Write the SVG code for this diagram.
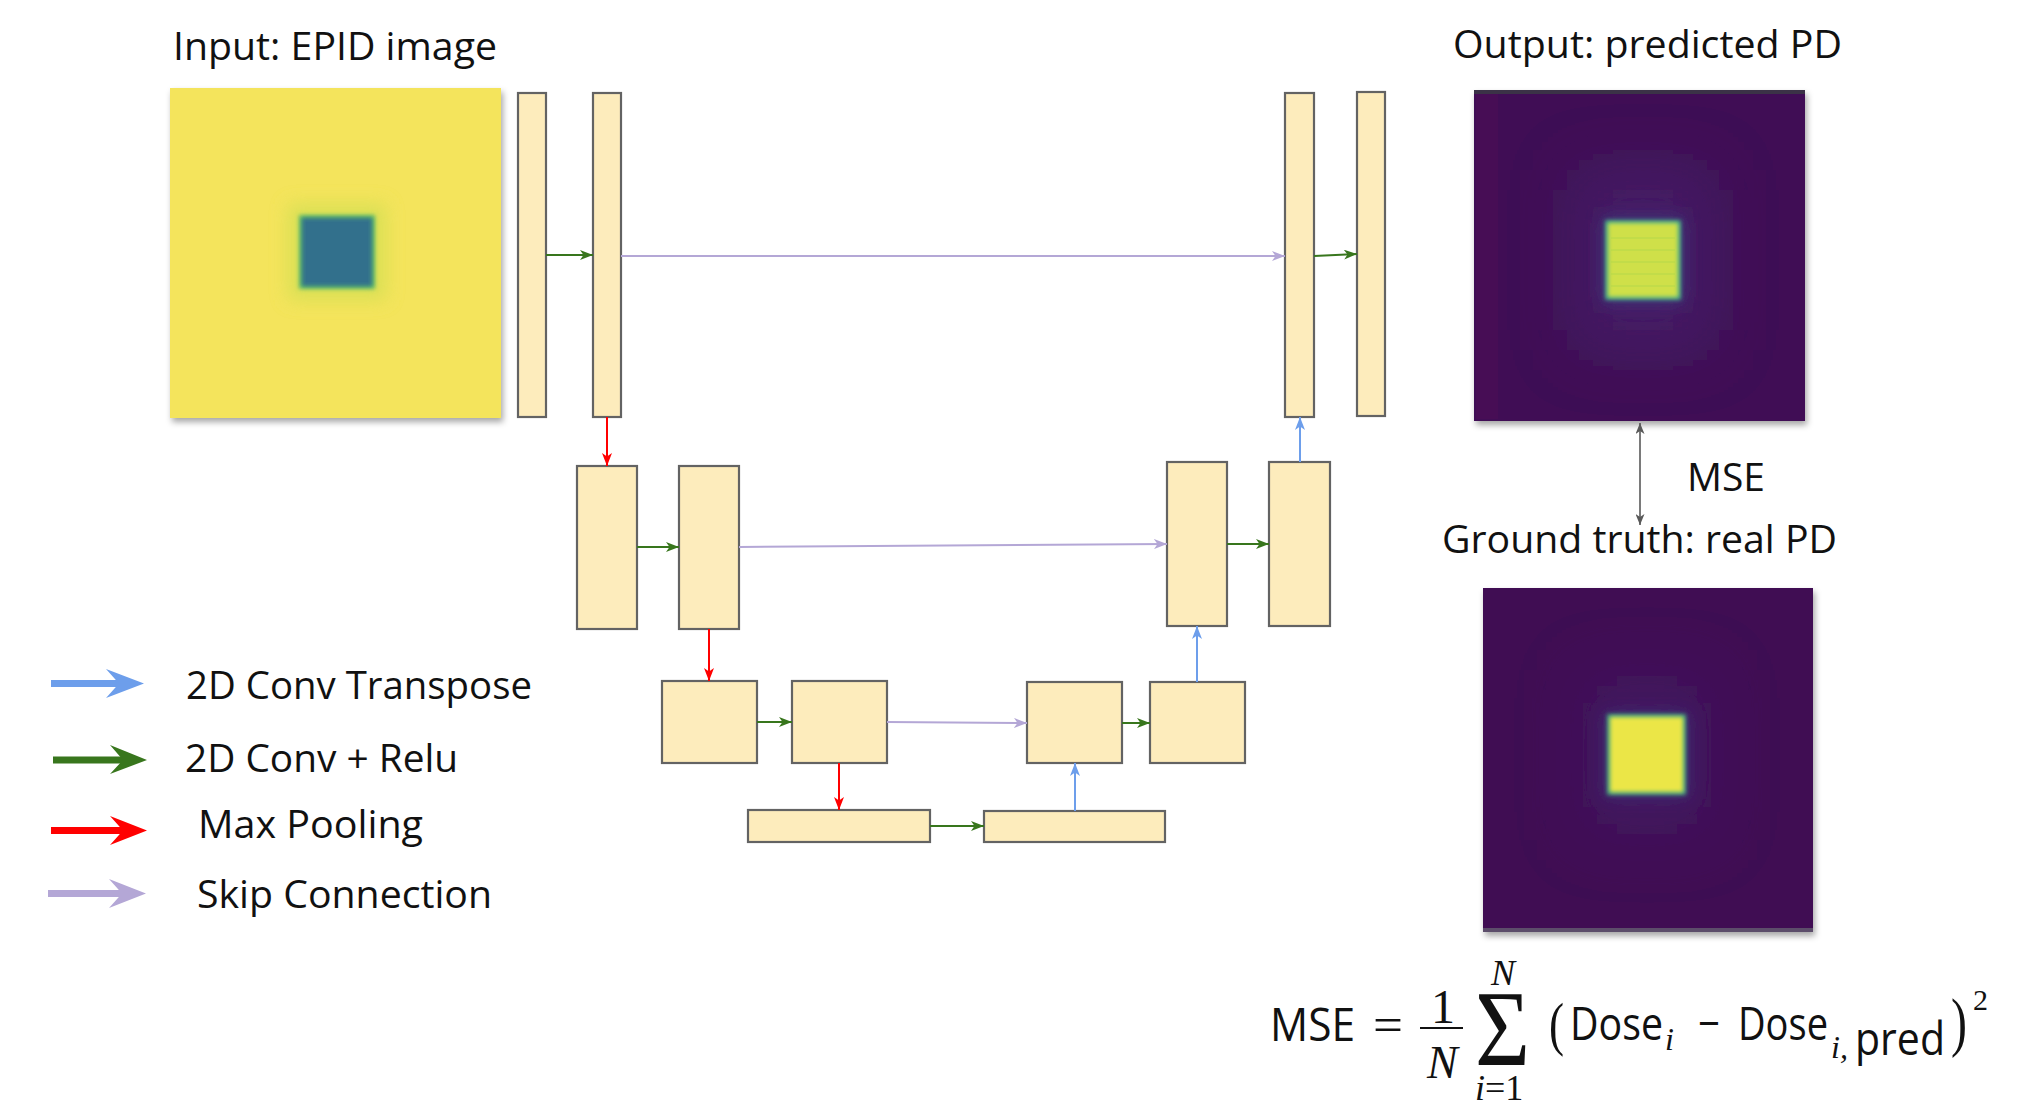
<svg xmlns="http://www.w3.org/2000/svg" width="2030" height="1105" viewBox="0 0 2030 1105">
  <style>
    .lbl { font-family: "Open Sans", "Noto Sans", "DejaVu Sans", sans-serif; font-size: 39px; fill: #111; }
    .sans { font-family: "Open Sans", "Noto Sans", "DejaVu Sans", sans-serif; font-size: 46px; font-style: normal; }
    .ser { font-family: "Liberation Serif", "DejaVu Serif", serif; font-style: normal; }
    .it { font-family: "Liberation Serif", "DejaVu Serif", serif; font-style: italic; }
    .formula { fill: #111; }
    .layer { fill: #fdecbc; stroke: #636363; stroke-width: 2.2; }
    .conv { stroke: #38761d; stroke-width: 2; fill: none; marker-end: url(#head-green); }
    .pool { stroke: #ff0000; stroke-width: 2; fill: none; marker-end: url(#head-red); }
    .up { stroke: #6d9eeb; stroke-width: 2; fill: none; marker-end: url(#head-blue); }
    .skip { stroke: #b4a7d6; stroke-width: 2; fill: none; marker-end: url(#head-purple); }
    .mse { stroke: #595959; stroke-width: 1.6; fill: none; marker-start: url(#head-gray-start); marker-end: url(#head-gray); }
  </style>
  <defs>
    <marker id="head-green" markerUnits="userSpaceOnUse" markerWidth="14" markerHeight="10" refX="13" refY="5" orient="auto">
      <path d="M0,0 L13,5 L0,10 L3.5,5 Z" fill="#38761d"/>
    </marker>
    <marker id="head-red" markerUnits="userSpaceOnUse" markerWidth="14" markerHeight="10" refX="13" refY="5" orient="auto">
      <path d="M0,0 L13,5 L0,10 L3.5,5 Z" fill="#ff0000"/>
    </marker>
    <marker id="head-blue" markerUnits="userSpaceOnUse" markerWidth="14" markerHeight="10" refX="13" refY="5" orient="auto">
      <path d="M0,0 L13,5 L0,10 L3.5,5 Z" fill="#6d9eeb"/>
    </marker>
    <marker id="head-purple" markerUnits="userSpaceOnUse" markerWidth="14" markerHeight="10" refX="13" refY="5" orient="auto">
      <path d="M0,0 L13,5 L0,10 L3.5,5 Z" fill="#b4a7d6"/>
    </marker>
    <marker id="head-gray" markerUnits="userSpaceOnUse" markerWidth="12" markerHeight="9" refX="11" refY="4.5" orient="auto">
      <path d="M0,0 L11,4.5 L0,9 L3,4.5 Z" fill="#595959"/>
    </marker>
    <marker id="head-gray-start" markerUnits="userSpaceOnUse" markerWidth="12" markerHeight="9" refX="11" refY="4.5" orient="auto-start-reverse">
      <path d="M0,0 L11,4.5 L0,9 L3,4.5 Z" fill="#595959"/>
    </marker>
    <filter id="shadow" x="-5%" y="-5%" width="115%" height="115%">
      <feDropShadow dx="2" dy="4" stdDeviation="3" flood-color="#000" flood-opacity="0.35"/>
    </filter>
    <filter id="soft" x="-30%" y="-30%" width="160%" height="160%">
      <feGaussianBlur stdDeviation="2"/>
    </filter>
    <filter id="halo" x="-60%" y="-60%" width="220%" height="220%">
      <feGaussianBlur stdDeviation="9"/>
    </filter>
    <filter id="wide" x="-80%" y="-80%" width="260%" height="260%">
      <feGaussianBlur stdDeviation="30"/>
    </filter>
    <clipPath id="clip-out"><rect x="1474" y="90" width="331" height="331"/></clipPath>
    <clipPath id="clip-gt"><rect x="1483" y="588" width="330" height="344"/></clipPath>
  </defs>

  <!-- Titles and labels -->
  <text class="lbl" x="173" y="60" textLength="324" lengthAdjust="spacingAndGlyphs">Input: EPID image</text>
  <text class="lbl" x="1453" y="58" textLength="389" lengthAdjust="spacingAndGlyphs">Output: predicted PD</text>
  <text class="lbl" x="1687" y="491" textLength="78" lengthAdjust="spacingAndGlyphs">MSE</text>
  <text class="lbl" x="1442" y="553" textLength="395" lengthAdjust="spacingAndGlyphs">Ground truth: real PD</text>

  <!-- Input EPID image -->
  <g id="input-image" filter="url(#shadow)">
    <rect x="170" y="88" width="331" height="330" fill="#f4e45b"/>
    <rect x="288" y="204" width="98" height="96" fill="#c8de52" opacity="0.6" filter="url(#halo)"/>
    <rect x="299" y="215" width="76" height="74" fill="#5bbb68" filter="url(#soft)"/>
    <rect x="302" y="218" width="70" height="68" fill="#33708c" filter="url(#soft)"/>
  </g>

  <!-- Predicted PD image -->
  <g id="output-image" filter="url(#shadow)">
    <rect x="1474" y="90" width="331" height="331" fill="#3f0e55"/>
    <g clip-path="url(#clip-out)">
      <rect x="1476" y="92" width="22" height="327" fill="#4d0c55" opacity="0.5"/>
      <rect x="1573" y="170" width="140" height="180" fill="#4c2a74" opacity="0.55" filter="url(#wide)"/>
    </g>
    <rect x="1474" y="90" width="331" height="4" fill="#3a3046"/>
    <rect x="1602" y="217" width="82" height="86" fill="#3b4f8a" opacity="0.45" filter="url(#halo)"/>
    <rect x="1605" y="220" width="76" height="80" fill="#3fa889" filter="url(#soft)"/>
    <rect x="1608" y="223" width="70" height="74" fill="#cfe04a" filter="url(#soft)"/>
    <g stroke="#b6d94a" stroke-width="1.5" opacity="0.7">
      <line x1="1611" y1="238" x2="1675" y2="238"/>
      <line x1="1611" y1="250" x2="1675" y2="250"/>
      <line x1="1611" y1="262" x2="1675" y2="262"/>
      <line x1="1611" y1="274" x2="1675" y2="274"/>
      <line x1="1611" y1="286" x2="1675" y2="286"/>
    </g>
  </g>

  <!-- Ground truth PD image -->
  <g id="truth-image" filter="url(#shadow)">
    <rect x="1483" y="588" width="330" height="344" fill="#3f0c53"/>
    <g clip-path="url(#clip-gt)">
      <rect x="1577" y="670" width="140" height="170" fill="#4c2a74" opacity="0.35" filter="url(#wide)"/>
    </g>
    <rect x="1483" y="928" width="330" height="4" fill="#5b4e6a"/>
    <rect x="1603" y="711" width="87" height="88" fill="#3b4f8a" opacity="0.4" filter="url(#halo)"/>
    <rect x="1607" y="714" width="79" height="81" fill="#3fa37f" filter="url(#soft)"/>
    <rect x="1610" y="717" width="73" height="75" fill="#ebe646" filter="url(#soft)"/>
  </g>

  <!-- Encoder layers -->
  <g id="enc1a"><rect class="layer" x="518" y="93" width="28" height="324"/></g>
  <g id="enc1b"><rect class="layer" x="593" y="93" width="28" height="324"/></g>
  <g id="enc2a"><rect class="layer" x="577" y="466" width="60" height="163"/></g>
  <g id="enc2b"><rect class="layer" x="679" y="466" width="60" height="163"/></g>
  <g id="enc3a"><rect class="layer" x="662" y="681" width="95" height="82"/></g>
  <g id="enc3b"><rect class="layer" x="792" y="681" width="95" height="82"/></g>

  <!-- Bottleneck -->
  <g id="bottom-a"><rect class="layer" x="748" y="810" width="182" height="32"/></g>
  <g id="bottom-b"><rect class="layer" x="984" y="811" width="181" height="31"/></g>

  <!-- Decoder layers -->
  <g id="dec3a"><rect class="layer" x="1027" y="682" width="95" height="81"/></g>
  <g id="dec3b"><rect class="layer" x="1150" y="682" width="95" height="81"/></g>
  <g id="dec2a"><rect class="layer" x="1167" y="462" width="60" height="164"/></g>
  <g id="dec2b"><rect class="layer" x="1269" y="462" width="61" height="164"/></g>
  <g id="dec1a"><rect class="layer" x="1285" y="93" width="29" height="324"/></g>
  <g id="dec1b"><rect class="layer" x="1357" y="92" width="28" height="324"/></g>

  <!-- Connectors -->
  <g id="connectors">
    <line class="conv" x1="546" y1="255" x2="593" y2="255"/>
    <line class="conv" x1="637" y1="547" x2="679" y2="547"/>
    <line class="conv" x1="757" y1="722" x2="792" y2="722"/>
    <line class="conv" x1="930" y1="826" x2="984" y2="826"/>
    <line class="conv" x1="1122" y1="723" x2="1150" y2="723"/>
    <line class="conv" x1="1227" y1="544" x2="1269" y2="544"/>
    <line class="conv" x1="1314" y1="256" x2="1357" y2="254"/>

    <line class="pool" x1="607" y1="417" x2="607" y2="466"/>
    <line class="pool" x1="709" y1="629" x2="709" y2="681"/>
    <line class="pool" x1="839" y1="763" x2="839" y2="810"/>

    <line class="up" x1="1075" y1="811" x2="1075" y2="763"/>
    <line class="up" x1="1197" y1="682" x2="1197" y2="626"/>
    <line class="up" x1="1300" y1="462" x2="1300" y2="417"/>

    <line class="skip" x1="621" y1="256" x2="1285" y2="256"/>
    <line class="skip" x1="739" y1="547" x2="1167" y2="544"/>
    <line class="skip" x1="887" y1="722" x2="1027" y2="723"/>

    <line class="mse" x1="1640" y1="423" x2="1640" y2="525"/>
  </g>

  <!-- Legend -->
  <g id="legend">
    <rect x="51" y="680" width="68" height="7" fill="#6d9eeb"/>
    <polygon points="106,669 144,683.5 106,698 119,683.5" fill="#6d9eeb"/>
    <text class="lbl" x="186" y="699" textLength="346" lengthAdjust="spacingAndGlyphs">2D Conv Transpose</text>

    <rect x="53" y="756.5" width="70" height="7" fill="#38761d"/>
    <polygon points="110,745 147,760 110,774 123,760" fill="#38761d"/>
    <text class="lbl" x="185" y="772" textLength="273" lengthAdjust="spacingAndGlyphs">2D Conv + Relu</text>

    <rect x="51" y="827" width="72" height="7" fill="#ff0000"/>
    <polygon points="110,816 147,830.5 110,845 123,830.5" fill="#ff0000"/>
    <text class="lbl" x="198" y="838" textLength="225" lengthAdjust="spacingAndGlyphs">Max Pooling</text>

    <rect x="48" y="890" width="74" height="7" fill="#b4a7d6"/>
    <polygon points="109,879 146,893.5 109,908 122,893.5" fill="#b4a7d6"/>
    <text class="lbl" x="197" y="908" textLength="295" lengthAdjust="spacingAndGlyphs">Skip Connection</text>
  </g>

  <!-- Loss formula: MSE = 1/N * sum_{i=1}^{N} (Dose_i - Dose_{i,pred})^2 -->
  <g id="formula">
    <line x1="1420" y1="1028" x2="1463" y2="1028" stroke="#111" stroke-width="2.2"/>
    <text class="formula"><tspan class="sans" x="1270" y="1041" textLength="85" lengthAdjust="spacingAndGlyphs">MSE</tspan><tspan class="ser" x="1373" y="1041" font-size="48" textLength="30" lengthAdjust="spacingAndGlyphs">=</tspan><tspan class="ser" x="1431" y="1023" font-size="48">1</tspan><tspan class="it" x="1427" y="1078" font-size="46">N</tspan><tspan class="ser" x="1475" y="1065" font-size="108" textLength="55" lengthAdjust="spacingAndGlyphs">Σ</tspan><tspan class="it" x="1491" y="985" font-size="36">N</tspan><tspan class="it" x="1475" y="1100" font-size="36">i</tspan><tspan class="ser" font-size="36">=1</tspan><tspan class="ser" x="1549" y="1044" font-size="60" textLength="15" lengthAdjust="spacingAndGlyphs">(</tspan><tspan class="sans" x="1570" y="1040" textLength="93" lengthAdjust="spacingAndGlyphs">Dose</tspan><tspan class="it" x="1665" y="1050" font-size="32">i</tspan><tspan class="sans" x="1698" y="1040" font-size="46" textLength="22" lengthAdjust="spacingAndGlyphs">−</tspan><tspan class="sans" x="1738" y="1040" textLength="90" lengthAdjust="spacingAndGlyphs">Dose</tspan><tspan class="it" x="1831" y="1058" font-size="32">i,</tspan><tspan class="sans" x="1855" y="1055" textLength="90" lengthAdjust="spacingAndGlyphs">pred</tspan><tspan class="ser" x="1951" y="1044" font-size="66" textLength="16" lengthAdjust="spacingAndGlyphs">)</tspan><tspan class="ser" x="1973" y="1010" font-size="30">2</tspan></text>
  </g>
</svg>
